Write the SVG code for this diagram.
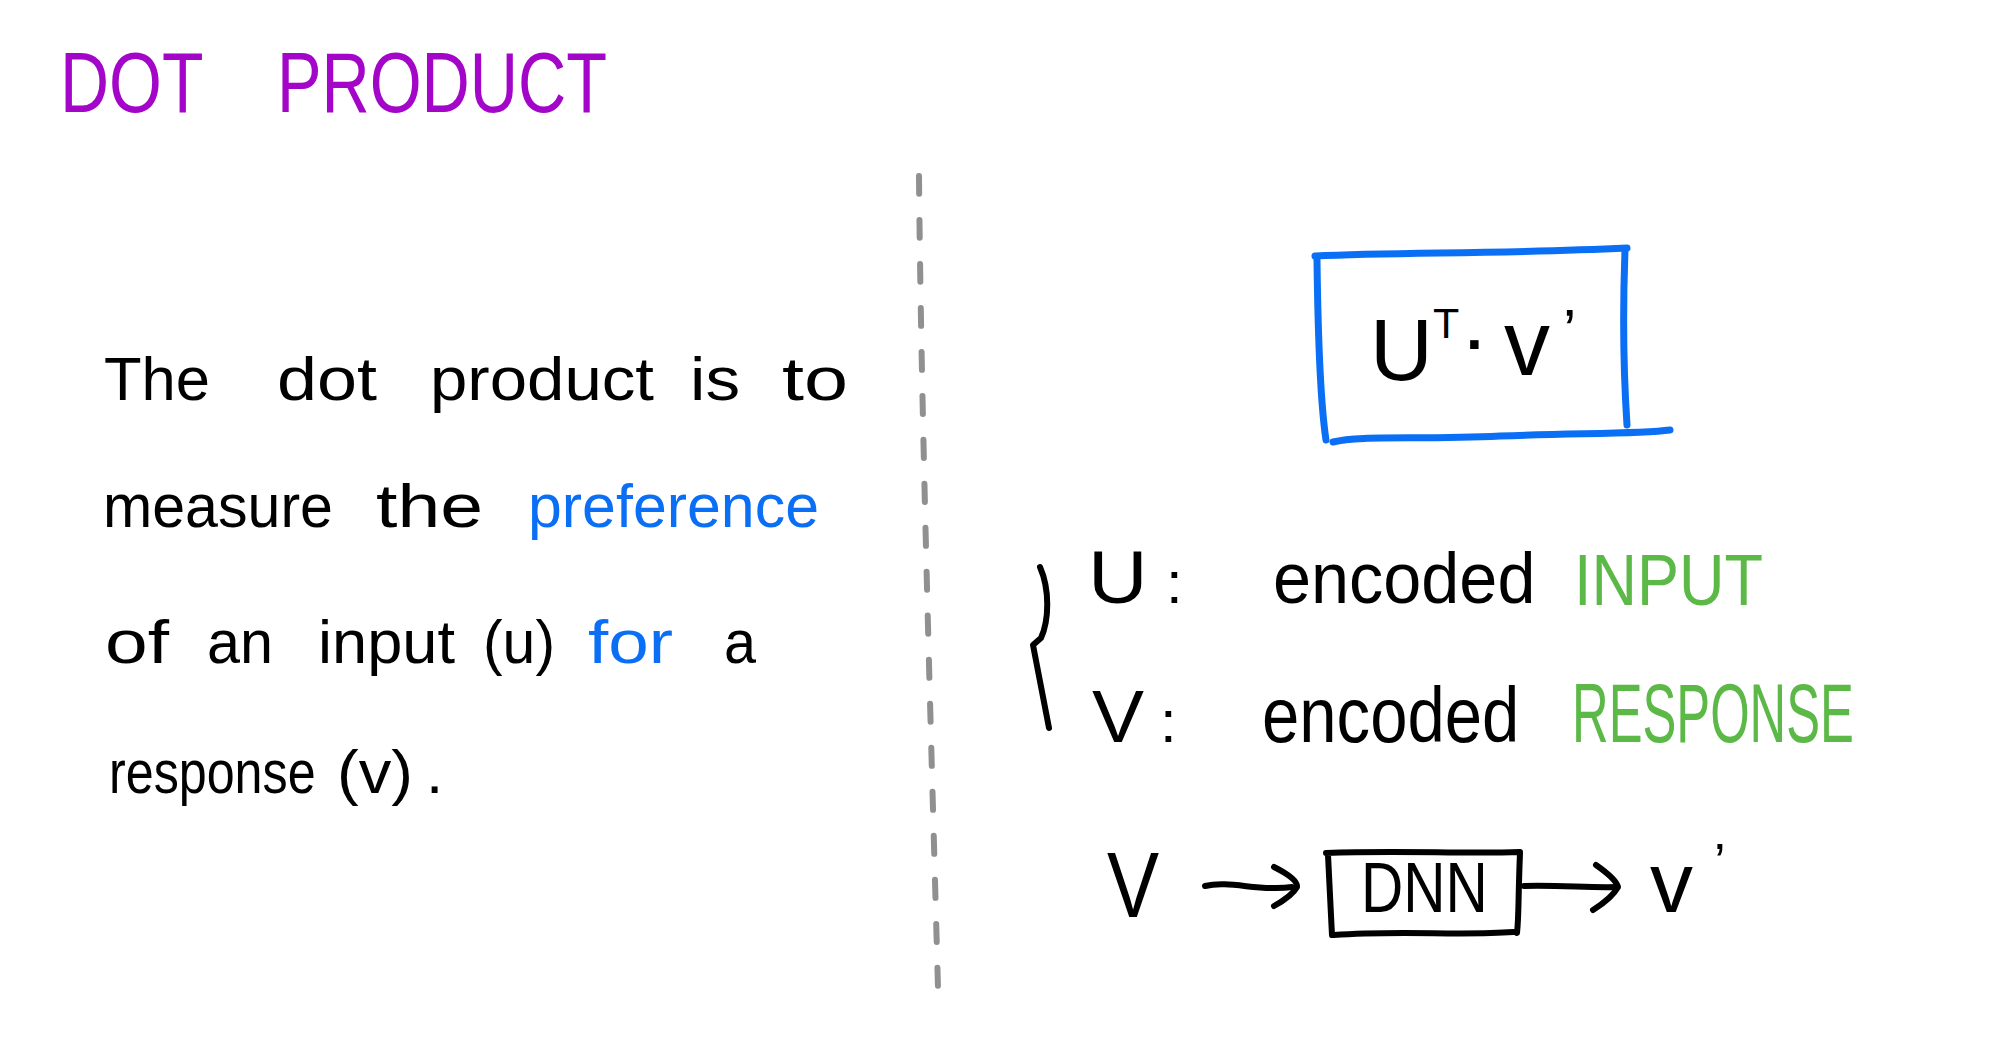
<svg xmlns="http://www.w3.org/2000/svg" width="1992" height="1038" viewBox="0 0 1992 1038">
<style>
.t{font-family:"Liberation Sans","DejaVu Sans",sans-serif;fill:#000}
.blue{fill:#0b6ff6}
.green{fill:#5cb947}
.purple{fill:#a406c9}
.ink{fill:none;stroke:#000;stroke-width:6;stroke-linecap:round;stroke-linejoin:round}
.bl{fill:none;stroke:#0b6ff6;stroke-width:7;stroke-linecap:round;stroke-linejoin:round}
</style>
<rect width="1992" height="1038" fill="#fff"/>
<g id="title">
<text class="t purple" font-size="86" transform="translate(60,112) scale(0.79,1)">DOT</text>
<text class="t purple" font-size="86" transform="translate(277,112) scale(0.776,1)">PRODUCT</text>
</g>
<g id="paragraph" font-size="62">
<text class="t" y="400"><tspan x="104" textLength="106" lengthAdjust="spacingAndGlyphs">The</tspan> <tspan x="277" textLength="100" lengthAdjust="spacingAndGlyphs">dot</tspan> <tspan x="430" textLength="224" lengthAdjust="spacingAndGlyphs">product</tspan> <tspan x="690" textLength="50" lengthAdjust="spacingAndGlyphs">is</tspan> <tspan x="782" textLength="66" lengthAdjust="spacingAndGlyphs">to</tspan></text>
<text class="t" y="527"><tspan x="103" textLength="230" lengthAdjust="spacingAndGlyphs">measure</tspan> <tspan x="376" textLength="107" lengthAdjust="spacingAndGlyphs">the</tspan> <tspan x="528" textLength="291" lengthAdjust="spacingAndGlyphs" class="blue">preference</tspan></text>
<text class="t" y="663"><tspan x="105" textLength="64" lengthAdjust="spacingAndGlyphs">of</tspan> <tspan x="207" textLength="66" lengthAdjust="spacingAndGlyphs">an</tspan> <tspan x="318" textLength="137" lengthAdjust="spacingAndGlyphs">input</tspan> <tspan x="483" textLength="72" lengthAdjust="spacingAndGlyphs">(u)</tspan> <tspan x="588" textLength="85" lengthAdjust="spacingAndGlyphs" class="blue">for</tspan> <tspan x="724" textLength="32" lengthAdjust="spacingAndGlyphs">a</tspan></text>
<text class="t" transform="translate(109,793) scale(0.81,1)">response</text>
<text class="t" y="793"><tspan x="337" textLength="76" lengthAdjust="spacingAndGlyphs">(v)</tspan><tspan x="426">.</tspan></text>
</g>
<g id="divider">
<path d="M919,176 C921,400 930,700 938,988" fill="none" stroke="#909090" stroke-width="6" stroke-linecap="round" stroke-dasharray="18 26"/>
</g>
<g id="formula-box">
<path class="bl" d="M1315,256 C1400,252 1500,254 1627,248"/>
<path class="bl" d="M1317,260 C1318,340 1320,400 1326,440"/>
<path class="bl" d="M1625,250 C1622,330 1624,380 1627,425"/>
<path class="bl" d="M1333,442 C1360,435 1420,440 1500,436 C1580,433 1640,434 1670,430"/>
<text class="t"><tspan x="1370" y="380" font-size="87">U</tspan><tspan x="1433" y="338" font-size="43">T</tspan><tspan x="1466" y="364" font-size="60" font-weight="bold">·</tspan><tspan x="1504" y="375" font-size="92">v</tspan><tspan x="1563" y="351" font-size="60">’</tspan></text>
</g>
<g id="legend">
<path class="ink" d="M1040,567 C1050,590 1049,620 1041,638 L1033,645 L1049,728" stroke-width="5"/>
<text class="t" font-size="75" transform="translate(1088,603) scale(1.1,1)">U</text>
<text class="t" font-size="60" x="1166" y="603">:</text>
<text class="t" font-size="72" transform="translate(1273,603) scale(0.95,1)">encoded</text>
<text class="t green" font-size="72" transform="translate(1574,605) scale(0.875,1)">INPUT</text>
<text class="t" font-size="75" transform="translate(1092,742) scale(1.04,1)">V</text>
<text class="t" font-size="60" x="1160" y="742">:</text>
<text class="t" font-size="78" transform="translate(1262,742) scale(0.86,1)">encoded</text>
<text class="t green" font-size="84" transform="translate(1572,742) scale(0.604,1)">RESPONSE</text>
</g>
<g id="node-V">
<text class="t" font-size="93" transform="translate(1107,917) scale(0.84,1)">V</text>
</g>
<g id="node-DNN">
<path class="ink" d="M1326,853 C1400,850 1460,854 1520,852 M1520,853 C1518,900 1519,915 1517,933 M1334,935 C1400,930 1460,936 1513,932 M1328,855 C1330,900 1331,915 1332,935"/>
<text class="t" font-size="70" transform="translate(1361,912) scale(0.836,1)">DNN</text>
</g>
<g id="node-vprime">
<text class="t"><tspan x="1650" y="912" font-size="86">v</tspan><tspan x="1714" y="880" font-size="52">’</tspan></text>
</g>
<g id="connectors">
<path class="ink" d="M1205,886 C1230,880 1260,892 1292,887"/>
<path class="ink" d="M1274,867 Q1298,879 1297,887 Q1292,896 1274,906"/>
<path class="ink" d="M1524,886 C1560,885 1590,888 1617,887"/>
<path class="ink" d="M1596,865 Q1616,879 1618,887 Q1612,898 1593,910"/>
</g>
</svg>
